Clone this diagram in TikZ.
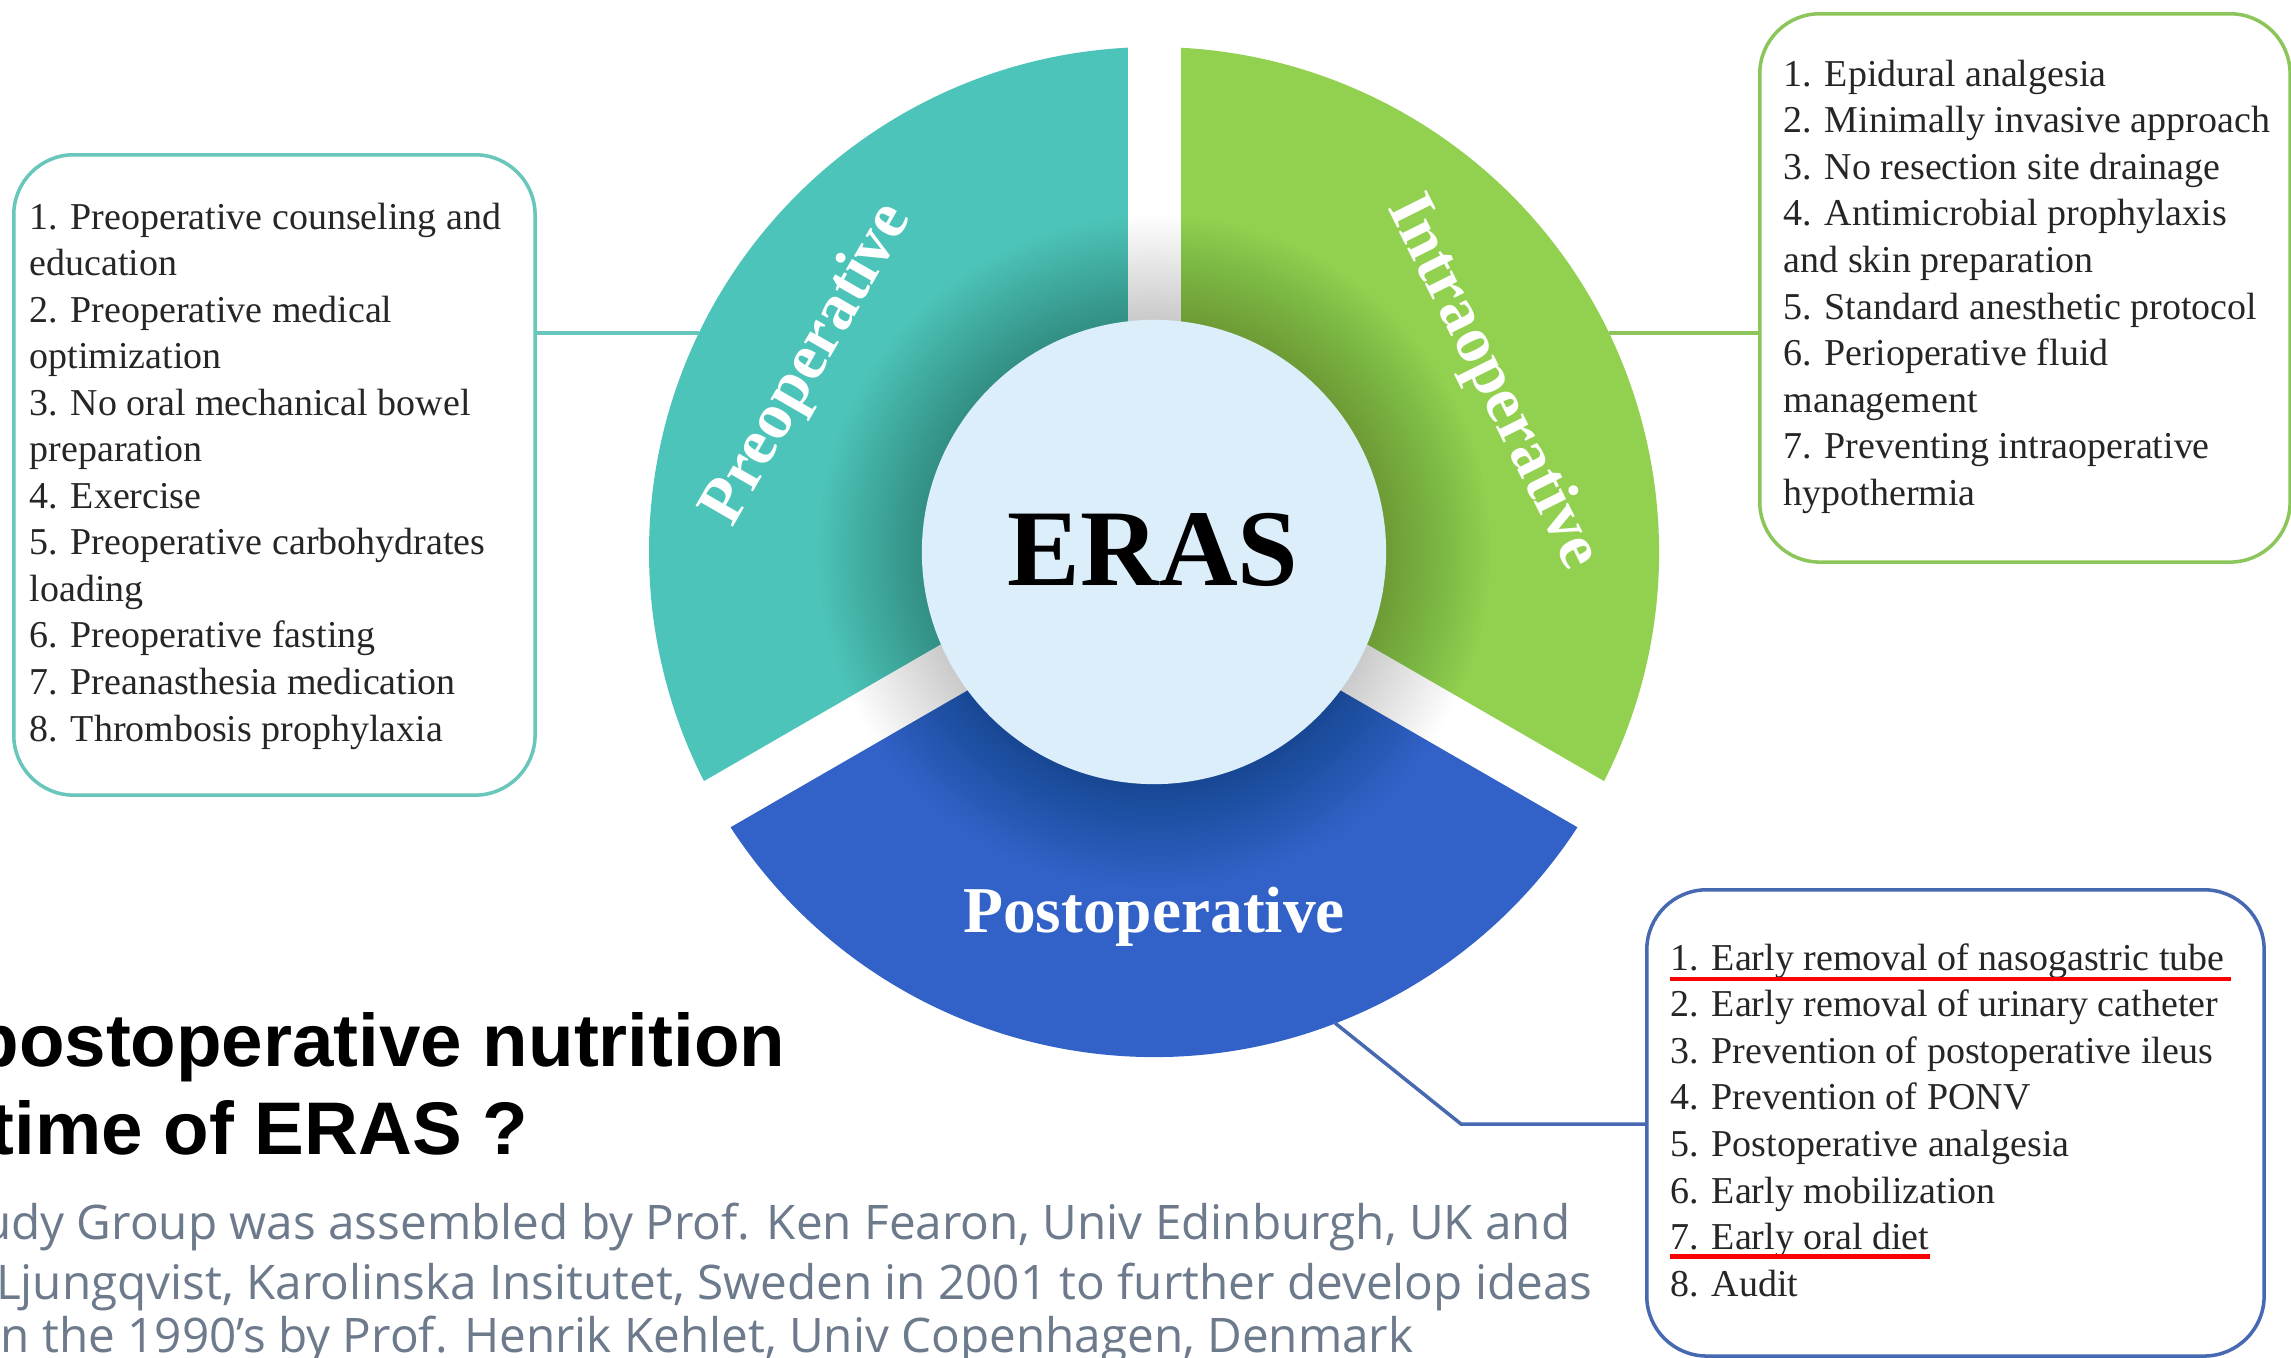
\documentclass[tikz,border=0pt]{standalone}
\usepackage{fontspec}
\setmainfont{Liberation Serif}
\newfontfamily\headfont{Liberation Sans}
\newfontfamily\notefont{Open Sans}

\definecolor{preTeal}{RGB}{77,196,185}
\definecolor{intraGreen}{RGB}{146,208,80}
\definecolor{postBlue}{RGB}{50,98,200}
\definecolor{hubFill}{RGB}{221,238,251}
\definecolor{preLine}{RGB}{104,198,186}
\definecolor{intraLine}{RGB}{140,198,90}
\definecolor{postLine}{RGB}{70,105,178}
\definecolor{noteGray}{RGB}{108,122,140}
\definecolor{markRed}{RGB}{250,0,0}

\tikzset{
  listbox/.style={draw, line width=1pt, rounded corners=0.6cm, fill=white,
    anchor=north west, inner sep=0pt},
  conn/.style={line width=1pt},
  item/.style={anchor=base west, inner sep=0pt, text=black!85,
    font=\fontsize{10.8}{13}\selectfont},
  phase/.style={text=white, inner sep=0pt, font=\bfseries\fontsize{18.6}{22}\selectfont},
  title/.style={anchor=base east, inner sep=0pt, text=black,
    font=\headfont\bfseries\fontsize{21.2}{25}\selectfont},
  note/.style={anchor=base east, inner sep=0pt, text=noteGray,
    font=\notefont\fontsize{13.55}{17}\selectfont},
  underline/.style={markRed, line width=1.4pt},
}

\begin{document}
\begin{tikzpicture}[x=0.01cm, y=-0.01cm]
\useasboundingbox (0,0) rectangle (2291,1357);
\clip (0,0) rectangle (2291,1357);
\fill[white] (0,0) rectangle (2291,1357);

% three-part ring with white gaps and a soft shadow round the hub
\begin{scope}[shift={(1154,552)}, yscale=-1]
  \fill[preTeal] (0,0) -- (90:505) arc[start angle=90, end angle=210, radius=505] -- cycle;
  \fill[postBlue] (0,0) -- (210:505) arc[start angle=210, end angle=330, radius=505] -- cycle;
  \fill[intraGreen] (0,0) -- (-30:505) arc[start angle=-30, end angle=90, radius=505] -- cycle;
  \foreach \a in {90,210,330} \draw[white, line width=0.53cm] (0,0) -- (\a:540);
  \foreach \r in {236,240,...,336} \fill[black, opacity=0.0075] (0,0) circle[radius=\r];
\end{scope}

% hub
\node[circle, fill=hubFill, minimum size=4.64cm, inner sep=0pt] (hub) at (1154,552) {};
\node[anchor=base, inner sep=0pt, font=\bfseries\fontsize{31}{31}\selectfont] (erasLabel) at (1153,585) {ERAS};

% phase names on the ring
\node[phase, rotate=60] (preLabel) at (808,365) {Preoperative};
\node[phase, rotate=-63.5] (intraLabel) at (1492,383) {Intraoperative};
\node[phase, anchor=base] (postLabel) at (1154,932) {Postoperative};

% points where the connectors leave the ring
\coordinate (preTip) at (699,333);
\coordinate (intraTip) at (1609,333);
\coordinate (postTip) at (1335,1023);
\coordinate (postBend) at (1461,1124);

% item boxes
\node[listbox, draw=preLine, minimum width=5.21cm, minimum height=6.40cm] (preBox) at (12,153) {};
\node[listbox, draw=intraLine, minimum width=5.30cm, minimum height=5.48cm] (intraBox) at (1758,12) {};
\node[listbox, draw=postLine, minimum width=6.17cm, minimum height=4.66cm] (postBox) at (1645,888) {};

% connectors
\draw[conn, preLine] (preBox.east |- preTip) -- (preTip);
\draw[conn, intraLine] (intraTip) -- (intraTip -| intraBox.west);
\draw[conn, postLine] (postTip) -- (postBend) -- (postBend -| postBox.west);

% item lists
\foreach \t [count=\i] in {1. Preoperative counseling and, education,
    2. Preoperative medical, optimization, 3. No oral mechanical bowel,
    preparation, 4. Exercise, 5. Preoperative carbohydrates, loading,
    6. Preoperative fasting, 7. Preanasthesia medication, 8. Thrombosis prophylaxia}
  \node[item] (pre\i) at (29,{229+46.55*(\i-1)}) {\t};

\foreach \t [count=\i] in {1. Epidural analgesia, 2. Minimally invasive approach,
    3. No resection site drainage, 4. Antimicrobial prophylaxis,
    and skin preparation, 5. Standard anesthetic protocol, 6. Perioperative fluid,
    management, 7. Preventing intraoperative, hypothermia}
  \node[item] (intra\i) at (1783,{86+46.6*(\i-1)}) {\t};

\foreach \t [count=\i] in {1. Early removal of nasogastric tube,
    2. Early removal of urinary catheter, 3. Prevention of postoperative ileus,
    4. Prevention of PONV, 5. Postoperative analgesia, 6. Early mobilization,
    7. Early oral diet, 8. Audit}
  \node[item] (post\i) at (1670,{970+46.6*(\i-1)}) {\t};

% red highlights
\draw[underline] ([yshift=-0.09cm]post1.base west) -- ([yshift=-0.09cm, xshift=0.06cm]post1.base east);
\draw[underline] ([yshift=-0.07cm]post7.base west) -- ([yshift=-0.07cm]post7.base east);

% heading and notes at the lower left
\node[title] (title1) at (786,1066) {postoperative nutrition};
\node[title] (title2) at (529,1154) {time of ERAS ?};

\node[note] (note1) at (1571,1239) {udy Group was assembled by Prof. Ken Fearon, Univ Edinburgh, UK and};
\node[note] (note2) at (1593,1299) {Ljungqvist, Karolinska Insitutet, Sweden in 2001 to further develop ideas};
\node[note] (note3) at (1414,1352) {n the 1990’s by Prof. Henrik Kehlet, Univ Copenhagen, Denmark};
\end{tikzpicture}
\end{document}
